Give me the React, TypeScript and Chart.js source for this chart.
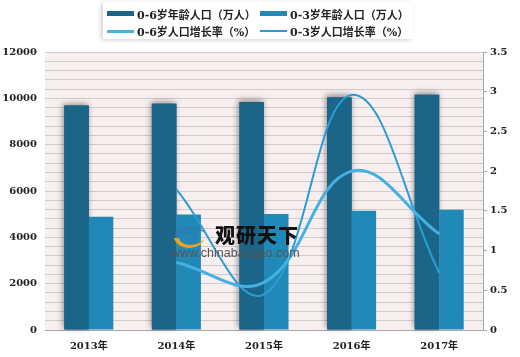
import React, { useEffect, useRef } from "react";
import { Chart, registerables } from "chart.js";

Chart.register(...registerables);

const years = ["2013年", "2014年", "2015年", "2016年", "2017年"];
const pop06 = [9690, 9770, 9840, 10040, 10155];
const pop03 = [4890, 4985, 5005, 5150, 5190];
const growth06 = [null, 0.85, 0.6, 2.0, 1.21];
const growth03 = [null, 1.77, 0.45, 2.96, 0.72];
const seriesNames = ["0-6岁年龄人口（万人）", "0-3岁年龄人口（万人）", "0-6岁人口增长率（%）", "0-3岁人口增长率（%）"];

const DARK = "#1b6589";
const LIGHT = "#2189b7";
const LINE06 = "#45b0e2";
const LINE03 = "#2a9dd6";
const TICK_FONT = { family: "'DejaVu Serif', 'Noto Sans CJK SC', serif", size: 10, weight: "bold" as const };

const bgPlugin = {
  id: "plotBg",
  beforeDraw(chart: any) {
    const { ctx, chartArea } = chart;
    ctx.save();
    ctx.fillStyle = "#f8f0f0";
    ctx.fillRect(chartArea.left, chartArea.top, chartArea.right - chartArea.left, chartArea.bottom - chartArea.top);
    ctx.restore();
  },
};

const shadowPlugin = {
  id: "barShadow",
  beforeDatasetsDraw(chart: any) {
    const meta = chart.getDatasetMeta(0);
    const ctx = chart.ctx;
    ctx.save();
    ctx.shadowColor = "rgba(70,50,50,0.55)";
    ctx.shadowBlur = 6;
    ctx.shadowOffsetX = -1;
    ctx.shadowOffsetY = -2;
    ctx.fillStyle = DARK;
    meta.data.forEach((el: any) => {
      const p = el.getProps(["x", "y", "base", "width"], true);
      ctx.fillRect(p.x - p.width / 2, p.y, p.width, p.base - p.y);
    });
    ctx.restore();
  },
};

function Legend() {
  const swatch = (i: number) => {
    if (i < 2) return <span style={{ display: "inline-block", width: 27, height: 5, background: i === 0 ? DARK : LIGHT, marginRight: 3 }} />;
    return <span style={{ display: "inline-block", width: 27, height: i === 2 ? 3 : 2, background: i === 2 ? LINE06 : LINE03, marginRight: 3 }} />;
  };
  const item = (i: number) => (
    <div style={{ display: "flex", alignItems: "center", width: 155, whiteSpace: "nowrap" }}>
      {swatch(i)}
      <span>{seriesNames[i]}</span>
    </div>
  );
  return (
    <div
      style={{
        position: "absolute",
        left: 103,
        top: 2,
        width: 310,
        height: 37,
        background: "#fff",
        boxShadow: "-2px 1px 4px rgba(0,0,0,0.18)",
        fontFamily: "'DejaVu Serif', 'Noto Sans CJK SC', serif",
        fontWeight: "bold",
        fontSize: 11,
        color: "#222",
        boxSizing: "border-box",
        paddingLeft: 4,
      }}
    >
      <div style={{ display: "flex", height: 19, alignItems: "center", marginTop: 2 }}>
        {item(0)}
        {item(1)}
      </div>
      <div style={{ display: "flex", height: 16, alignItems: "center" }}>
        {item(2)}
        {item(3)}
      </div>
    </div>
  );
}

function Watermark() {
  return (
    <div style={{ position: "absolute", left: 170, top: 222, width: 150, height: 45, pointerEvents: "none" }}>
      <svg width="34" height="28" style={{ position: "absolute", left: 2, top: 0 }}>
        <path d="M3 15 C3 3, 26 1, 33 11 C26 6, 12 6, 10 14 Z" fill="#2a7fb0" />
        <path d="M2 16 C5 29, 29 29, 32 17 C26 25, 9 25, 7 16 Z" fill="#f0a020" />
        <path d="M12 15 C12 9, 24 9, 24 15 C24 20, 15 20, 16 16" fill="none" stroke="#2a7fb0" strokeWidth="2.5" />
      </svg>
      <div style={{ position: "absolute", left: 45, top: 3, lineHeight: "20px", fontFamily: "'Noto Sans CJK SC', sans-serif", fontWeight: 900, fontSize: 20, color: "#111", letterSpacing: 1, whiteSpace: "nowrap" }}>
        观研天下
      </div>
      <div style={{ position: "absolute", left: 1, top: 24, lineHeight: "14px", fontFamily: "'Liberation Sans', Arial, sans-serif", fontSize: 12.5, color: "#555", whiteSpace: "nowrap" }}>
        www.chinabaogao.com
      </div>
    </div>
  );
}

export default function App() {
  const ref = useRef<HTMLCanvasElement | null>(null);
  useEffect(() => {
    if (!ref.current) return;
    const chart = new Chart(ref.current, {
      type: "bar",
      data: {
        labels: years,
        datasets: [
          { type: "bar", label: seriesNames[0], data: pop06, backgroundColor: DARK, yAxisID: "y", order: 1, barPercentage: 1, categoryPercentage: 0.56 },
          { type: "bar", label: seriesNames[1], data: pop03, backgroundColor: LIGHT, yAxisID: "y", order: 1, barPercentage: 1, categoryPercentage: 0.56 },
          { type: "line", label: seriesNames[2], data: growth06 as any, borderColor: LINE06, backgroundColor: LINE06, borderWidth: 3, pointRadius: 0, tension: 0.4, yAxisID: "y1", order: 0 },
          { type: "line", label: seriesNames[3], data: growth03 as any, borderColor: LINE03, backgroundColor: LINE03, borderWidth: 2, pointRadius: 0, tension: 0.4, yAxisID: "y1", order: 0 },
        ],
      },
      options: {
        responsive: false,
        animation: false,
        layout: { padding: { top: 52, left: 0, right: 0, bottom: 0 } },
        plugins: { legend: { display: false }, tooltip: { enabled: false } },
        scales: {
          x: {
            grid: { drawOnChartArea: false, drawTicks: false },
            border: { display: true, color: "#a8a8a8", width: 1 },
            ticks: { font: TICK_FONT, color: "#222", padding: 10 },
            afterFit: (s: any) => { s.height = 27; },
          },
          y: {
            position: "left",
            min: 0,
            max: 12000,
            grid: { color: "#d3cbcb", lineWidth: 1, drawTicks: false },
            border: { display: false },
            ticks: {
              stepSize: 400,
              autoSkip: false,
              font: TICK_FONT,
              color: "#222",
              padding: 8,
              callback: (v: any) => (Number(v) % 2000 === 0 ? String(v) : ""),
            },
            afterFit: (s: any) => { s.width = 45; },
          },
          y1: {
            position: "right",
            min: 0,
            max: 3.5,
            grid: { drawOnChartArea: false, drawTicks: true, tickLength: 4, color: "#a8a8a8" },
            border: { display: true, color: "#a8a8a8", width: 1 },
            ticks: { stepSize: 0.5, font: TICK_FONT, color: "#222", padding: 3, callback: (v: any) => String(v) },
            afterFit: (s: any) => { s.width = 37; },
          },
        },
      },
      plugins: [bgPlugin, shadowPlugin],
    } as any);
    return () => chart.destroy();
  }, []);
  return (
    <div style={{ position: "fixed", left: 0, top: 0, width: 520, height: 357, background: "#fff", overflow: "hidden" }}>
      <canvas ref={ref} width={520} height={357} style={{ display: "block", width: 520, height: 357 }} />
      <Legend />
      <Watermark />
    </div>
  );
}
